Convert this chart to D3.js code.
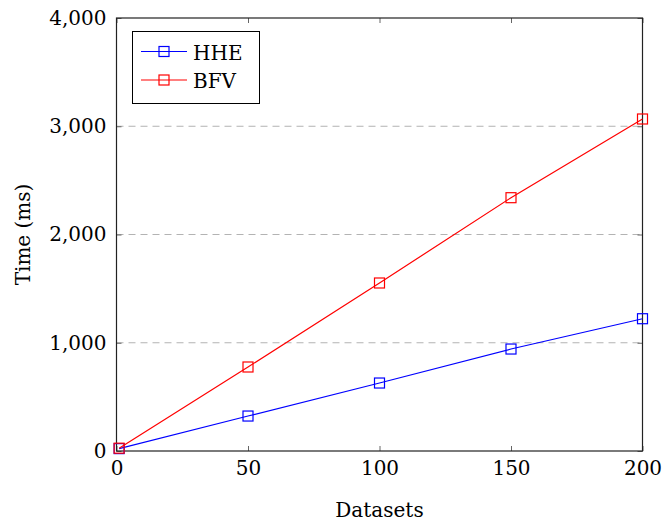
<!DOCTYPE html>
<html>
<head>
<meta charset="utf-8">
<script src="https://cdn.jsdelivr.net/npm/d3@7"></script>
<style>
body { margin: 0; background: #fff; }
text { font-family: "DejaVu Serif", "Liberation Serif", serif; }
</style>
</head>
<body>
<svg width="662" height="523"></svg>
<script>
var datasets = [1, 50, 100, 150, 200];
var hheTimes = [22, 323, 628, 942, 1222];
var bfvTimes = [26, 776, 1552, 2340, 3067];
var xTicks = [0, 50, 100, 150, 200];
var yTicks = [0, 1000, 2000, 3000, 4000];
var gridValues = [1000, 2000, 3000];

var series = [
  {name: "HHE", color: "#0000ff", values: hheTimes},
  {name: "BFV", color: "#ff0000", values: bfvTimes}
];

var svg = d3.select("svg");
var plotLeft = 116.5, plotRight = 642.5, plotTop = 18, plotBottom = 451;
var fontSize = 20;

var x = d3.scaleLinear().domain([0, 200]).range([plotLeft, plotRight]);
var y = d3.scaleLinear().domain([0, 4000]).range([plotBottom, plotTop]);
var fmt = d3.format(",");

// dashed grid
svg.append("g").selectAll("line")
  .data(gridValues)
  .enter().append("line")
    .attr("x1", plotLeft).attr("x2", plotRight)
    .attr("y1", function(d) { return y(d); })
    .attr("y2", function(d) { return y(d); })
    .attr("stroke", "#b3b3b3")
    .attr("stroke-width", 1)
    .attr("stroke-dasharray", "7,5");

// axes, ticks inside and mirrored
var tickLen = 5;
var xBottom = d3.axisBottom(x).tickValues(xTicks).tickSizeInner(-tickLen).tickSizeOuter(0).tickPadding(10).tickFormat(fmt);
var xTop = d3.axisTop(x).tickValues(xTicks).tickSizeInner(-tickLen).tickSizeOuter(0).tickFormat("");
var yLeft = d3.axisLeft(y).tickValues(yTicks).tickSizeInner(-tickLen).tickSizeOuter(0).tickPadding(10).tickFormat(fmt);
var yRight = d3.axisRight(y).tickValues(yTicks).tickSizeInner(-tickLen).tickSizeOuter(0).tickFormat("");

function styleAxis(g) {
  g.select(".domain").remove();
  g.selectAll(".tick line").attr("stroke", "#666").attr("stroke-width", 1);
  g.selectAll("text").attr("font-size", fontSize).attr("fill", "#000")
    .style("font-family", "'DejaVu Serif', 'Liberation Serif', serif");
}

svg.append("g").attr("transform", "translate(0," + plotBottom + ")").call(xBottom).call(styleAxis);
svg.append("g").attr("transform", "translate(0," + plotTop + ")").call(xTop).call(styleAxis);
svg.append("g").attr("transform", "translate(" + plotLeft + ",0)").call(yLeft).call(styleAxis);
svg.append("g").attr("transform", "translate(" + plotRight + ",0)").call(yRight).call(styleAxis);

// frame
svg.append("rect")
  .attr("x", plotLeft).attr("y", plotTop)
  .attr("width", plotRight - plotLeft).attr("height", plotBottom - plotTop)
  .attr("fill", "none").attr("stroke", "#222").attr("stroke-width", 1.2);

// lines and markers
var line = d3.line()
  .x(function(d, i) { return x(datasets[i]); })
  .y(function(d) { return y(d); });

var ms = 10;
series.forEach(function(s) {
  svg.append("path")
    .datum(s.values)
    .attr("d", line)
    .attr("fill", "none")
    .attr("stroke", s.color)
    .attr("stroke-width", 1.2);

  svg.append("g").selectAll("rect")
    .data(s.values)
    .enter().append("rect")
      .attr("x", function(d, i) { return x(datasets[i]) - ms / 2; })
      .attr("y", function(d) { return y(d) - ms / 2; })
      .attr("width", ms).attr("height", ms)
      .attr("fill", "none")
      .attr("stroke", s.color)
      .attr("stroke-width", 1.2);
});

// axis labels
svg.append("text")
  .attr("x", (plotLeft + plotRight) / 2).attr("y", 516.5)
  .attr("text-anchor", "middle")
  .attr("font-size", fontSize)
  .text("Datasets");

svg.append("text")
  .attr("transform", "translate(30," + ((plotTop + plotBottom) / 2) + ") rotate(-90)")
  .attr("text-anchor", "middle")
  .attr("font-size", fontSize)
  .text("Time (ms)");

// legend
var legend = svg.append("g");
legend.append("rect")
  .attr("x", 132.5).attr("y", 31.5)
  .attr("width", 127).attr("height", 72)
  .attr("fill", "#fff").attr("stroke", "#000").attr("stroke-width", 1);

series.forEach(function(s, i) {
  var ly = 51.5 + i * 28.5;
  legend.append("line")
    .attr("x1", 141).attr("x2", 187)
    .attr("y1", ly).attr("y2", ly)
    .attr("stroke", s.color).attr("stroke-width", 1.2);
  legend.append("rect")
    .attr("x", 164 - ms / 2).attr("y", ly - ms / 2)
    .attr("width", ms).attr("height", ms)
    .attr("fill", "none").attr("stroke", s.color).attr("stroke-width", 1.2);
  legend.append("text")
    .attr("x", 193).attr("y", ly + 8)
    .attr("font-size", fontSize)
    .text(s.name);
});
</script>
</body>
</html>
